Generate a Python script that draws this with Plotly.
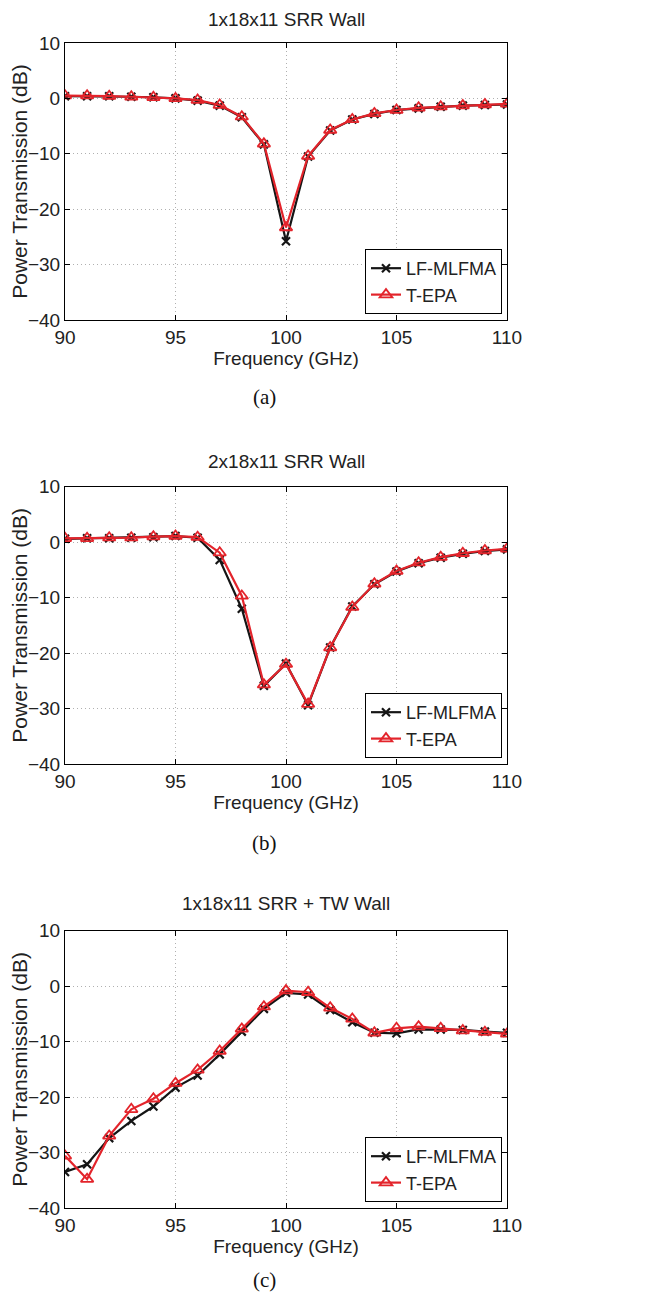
import plotly.graph_objects as go

# ————————————————
# data (dB vs GHz)
FREQ = list(range(90, 111))

A_LF = [0.4, 0.4, 0.4, 0.3, 0.2, 0.0, -0.4, -1.3, -3.4, -8.3, -25.8,
        -10.5, -5.8, -3.8, -2.8, -2.1, -1.8, -1.5, -1.3, -1.2, -1.1]
A_TEPA = [0.5, 0.5, 0.4, 0.3, 0.2, 0.0, -0.3, -1.2, -3.3, -8.2, -23.3,
          -10.4, -5.7, -3.8, -2.7, -2.1, -1.7, -1.5, -1.3, -1.1, -1.0]

B_LF = [0.6, 0.7, 0.7, 0.8, 0.9, 1.1, 0.8, -3.2, -12.0, -25.9, -21.9,
        -29.4, -19.0, -11.6, -7.6, -5.3, -3.8, -2.8, -2.1, -1.6, -1.3]
B_TEPA = [0.7, 0.7, 0.8, 0.8, 1.0, 1.1, 0.9, -1.9, -9.7, -25.7, -22.0,
          -29.2, -19.0, -11.7, -7.5, -5.2, -3.7, -2.7, -2.0, -1.5, -1.2]

C_LF = [-33.5, -32.1, -27.4, -24.3, -21.7, -18.3, -16.1, -12.3, -8.2, -4.1, -1.2,
        -1.5, -4.3, -6.5, -8.4, -8.5, -7.8, -7.8, -7.9, -8.2, -8.4]
C_TEPA = [-30.6, -34.8, -27.0, -22.2, -20.3, -17.5, -15.1, -11.7, -7.7, -3.7, -0.8,
          -1.1, -3.9, -5.9, -8.4, -7.6, -7.3, -7.6, -8.0, -8.3, -8.6]

TITLES = ["1x18x11 SRR Wall", "2x18x11 SRR Wall", "1x18x11 SRR + TW Wall"]
CAPTIONS = ["(a)", "(b)", "(c)"]
SERIES_NAMES = ["LF-MLFMA", "T-EPA"]

# ————————————————
# layout constants: page is 656x1301 but the body keeps an 8px margin,
# so the figure is 640x1285 and every page pixel is shifted by OFF
OFF = 8
W, H = 656 - 2 * OFF, 1301 - 2 * OFF


def px_x(v):
    return (v - OFF) / W


def px_y(v):
    return 1 - (v - OFF) / H


X_DOM = [px_x(65), px_x(507)]
Y_DOMS = [[px_y(320), px_y(43)],
          [px_y(764), px_y(486.7)],
          [px_y(1208), px_y(930.7)]]
TITLE_Y = [20, 461, 903]        # first one nudged down so it isn't clipped
CAPTION_Y = [397, 843, 1280]    # last one nudged up for the same reason
LEGEND_BOTTOM = [314, 758, 1202]

BLACK = "#151515"
RED = "#e3242b"
SANS = "Liberation Sans, Arial, sans-serif"
SERIF = "Liberation Serif, Times New Roman, serif"


def axis_style(**kw):
    base = dict(
        showline=True, linecolor="black", linewidth=1, mirror="ticks",
        ticks="inside", ticklen=5, tickcolor="black", automargin=False,
        showgrid=True, gridcolor="#b0b0b0", griddash="1px,3px", gridwidth=1,
        zeroline=False, tickfont=dict(family=SANS, size=19, color="#222"),
    )
    base.update(kw)
    return base


def build_figure():
    fig = go.Figure()
    panels = [(A_LF, A_TEPA), (B_LF, B_TEPA), (C_LF, C_TEPA)]

    for i, (lf, tepa) in enumerate(panels):
        n = "" if i == 0 else str(i + 1)
        leg = "legend" + n
        fig.add_trace(go.Scatter(
            x=FREQ, y=lf, name=SERIES_NAMES[0], mode="lines+markers",
            line=dict(color=BLACK, width=2.2),
            marker=dict(symbol="x-thin", size=8, line=dict(color=BLACK, width=2.2)),
            xaxis="x" + n, yaxis="y" + n, legend=leg,
        ))
        fig.add_trace(go.Scatter(
            x=FREQ, y=tepa, name=SERIES_NAMES[1], mode="lines+markers",
            line=dict(color=RED, width=2.2),
            marker=dict(symbol="triangle-up-open", size=11, color=RED,
                        line=dict(color=RED, width=1.8)),
            xaxis="x" + n, yaxis="y" + n, legend=leg,
        ))

        fig.layout["xaxis" + n] = axis_style(
            domain=X_DOM, range=[90, 110], dtick=5, anchor="y" + n,
            title=dict(text="Frequency (GHz)", standoff=2,
                       font=dict(family=SANS, size=19, color="#222")),
        )
        fig.layout["yaxis" + n] = axis_style(
            domain=Y_DOMS[i], range=[-40, 10], dtick=10, anchor="x" + n,
            title=dict(text="Power Transmission (dB)", standoff=6,
                       font=dict(family=SANS, size=21, color="#222")),
        )
        fig.layout[leg] = dict(
            x=px_x(502), y=px_y(LEGEND_BOTTOM[i]), xanchor="right", yanchor="bottom",
            bgcolor="white", bordercolor="black", borderwidth=1,
            font=dict(family=SANS, size=18, color="#222"),
            tracegroupgap=0,
        )

        fig.add_annotation(
            text=TITLES[i], x=(X_DOM[0] + X_DOM[1]) / 2, y=px_y(TITLE_Y[i]),
            xref="paper", yref="paper", showarrow=False, yanchor="middle",
            font=dict(family=SANS, size=19, color="#222"),
        )
        fig.add_annotation(
            text=CAPTIONS[i], x=px_x(264), y=px_y(CAPTION_Y[i]),
            xref="paper", yref="paper", showarrow=False, yanchor="middle",
            font=dict(family=SERIF, size=21, color="#111"),
        )

    fig.update_layout(
        width=W, height=H, margin=dict(l=0, r=0, t=0, b=0),
        paper_bgcolor="white", plot_bgcolor="white", showlegend=True,
    )
    return fig


def main():
    fig = build_figure()
    fig.write_html("out.html")


if __name__ == "__main__":
    main()
